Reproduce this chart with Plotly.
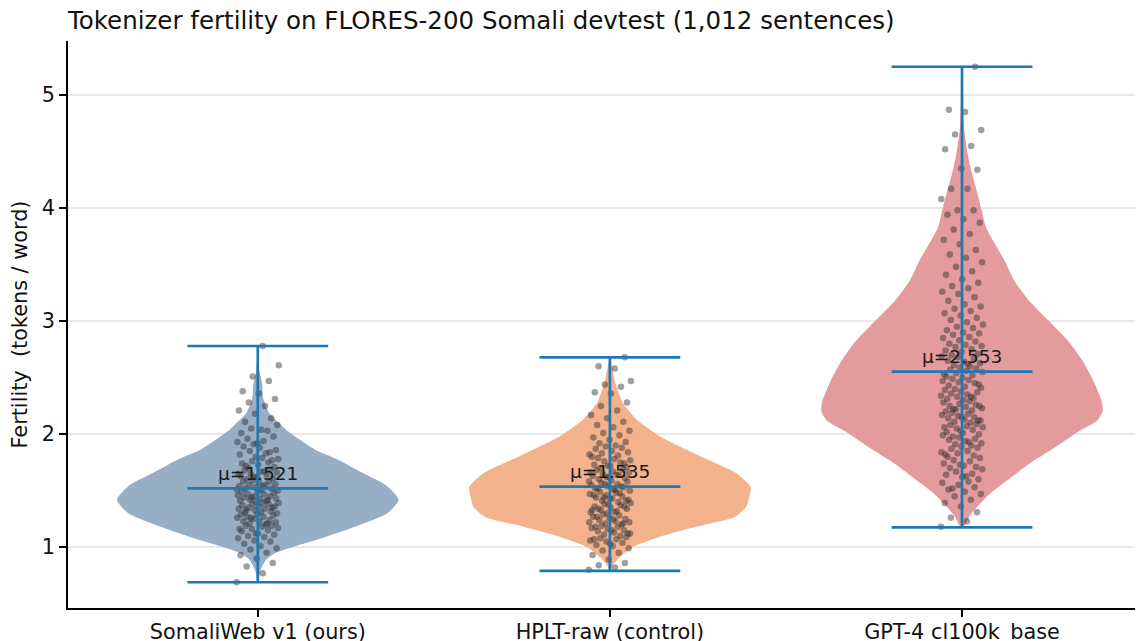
import plotly.graph_objects as go

# ---------------- data ----------------
categories = ["SomaliWeb v1 (ours)", "HPLT-raw (control)", "GPT-4 cl100k_base"]
means = [1.521, 1.535, 2.553]
mins = [0.69, 0.79, 1.175]
maxs = [2.78, 2.68, 5.25]

# violin density outlines (value, relative density 0..1)
somali_kde_y = [0.69, 0.80, 0.89, 0.95, 1.01, 1.07, 1.19, 1.30, 1.42, 1.54, 1.66,
                1.78, 1.86, 1.95, 2.04, 2.10, 2.19, 2.31, 2.45, 2.57, 2.78]
somali_kde_d = [0.0, 0.02, 0.06, 0.13, 0.27, 0.43, 0.71, 0.92, 1.0, 0.92, 0.74,
                0.56, 0.41, 0.30, 0.20, 0.15, 0.08, 0.04, 0.03, 0.01, 0.0]
hplt_kde_y = [0.79, 0.84, 0.91, 1.00, 1.09, 1.18, 1.27, 1.36, 1.45, 1.53, 1.66,
              1.80, 1.97, 2.13, 2.28, 2.45, 2.63, 2.68]
hplt_kde_d = [0.0, 0.02, 0.07, 0.16, 0.35, 0.61, 0.89, 0.97, 0.99, 1.0, 0.89,
              0.65, 0.37, 0.19, 0.09, 0.04, 0.01, 0.0]
gpt_kde_y = [1.175, 1.195, 1.27, 1.36, 1.475, 1.59, 1.74, 1.89, 2.01, 2.12, 2.21,
             2.30, 2.48, 2.66, 2.83, 3.01, 3.19, 3.36, 3.54, 3.69, 3.83, 3.98,
             4.13, 4.31, 4.48, 4.72, 5.02, 5.25]
gpt_kde_d = [0.0, 0.02, 0.05, 0.11, 0.20, 0.32, 0.48, 0.67, 0.81, 0.96, 1.0,
             0.99, 0.93, 0.85, 0.75, 0.61, 0.47, 0.37, 0.30, 0.23, 0.17, 0.14,
             0.11, 0.07, 0.04, 0.014, 0.007, 0.0]

# per-sentence fertility values (a readable subset of the plotted points)
somali_pts = [0.69, 0.77, 0.83, 0.86, 0.90, 0.93, 0.95, 0.98, 0.99,
              1.01, 1.03, 1.05, 1.06, 1.08, 1.09, 1.10,
              1.11, 1.12, 1.14, 1.15, 1.16, 1.17, 1.18, 1.19, 1.19, 1.12, 1.16,
              1.20, 1.21, 1.22, 1.23, 1.23, 1.24, 1.25, 1.26, 1.27, 1.27, 1.28, 1.29, 1.29, 1.21, 1.26,
              1.30, 1.31, 1.31, 1.32, 1.33, 1.34, 1.34, 1.35, 1.36, 1.36, 1.37, 1.38, 1.38, 1.39, 1.39, 1.33, 1.35,
              1.40, 1.41, 1.41, 1.42, 1.43, 1.43, 1.44, 1.45, 1.45, 1.46, 1.47, 1.47, 1.48, 1.49, 1.49, 1.42, 1.44,
              1.50, 1.51, 1.52, 1.52, 1.53, 1.54, 1.55, 1.55, 1.56, 1.57, 1.58, 1.58, 1.59, 1.51, 1.54,
              1.60, 1.61, 1.62, 1.63, 1.64, 1.65, 1.66, 1.67, 1.68, 1.69, 1.62, 1.65, 1.67,
              1.70, 1.71, 1.73, 1.74, 1.75, 1.76, 1.78, 1.79, 1.72, 1.77,
              1.80, 1.82, 1.83, 1.85, 1.86, 1.88, 1.89, 1.84,
              1.91, 1.93, 1.94, 1.96, 1.98, 1.92,
              2.01, 2.03, 2.05, 2.08, 2.04,
              2.11, 2.14, 2.18, 2.21,
              2.25, 2.28, 2.31,
              2.36, 2.38,
              2.47, 2.51, 2.61, 2.78]
hplt_pts = [0.80, 0.82, 0.84, 0.86, 0.89, 0.93, 0.95, 0.97, 0.99,
            1.01, 1.02, 1.04, 1.05, 1.06, 1.07, 1.08, 1.09, 1.03, 1.07,
            1.10, 1.11, 1.12, 1.13, 1.14, 1.15, 1.16, 1.17, 1.18, 1.19, 1.12, 1.15, 1.18,
            1.20, 1.21, 1.22, 1.23, 1.24, 1.25, 1.26, 1.27, 1.28, 1.29, 1.22, 1.25, 1.27, 1.21,
            1.30, 1.31, 1.32, 1.33, 1.34, 1.35, 1.36, 1.37, 1.38, 1.39, 1.31, 1.34, 1.36, 1.38, 1.33,
            1.40, 1.41, 1.42, 1.43, 1.44, 1.45, 1.46, 1.47, 1.48, 1.49, 1.41, 1.43, 1.46, 1.48, 1.44,
            1.50, 1.51, 1.52, 1.53, 1.54, 1.55, 1.56, 1.57, 1.58, 1.59, 1.52, 1.54, 1.56, 1.58, 1.51,
            1.60, 1.61, 1.62, 1.63, 1.64, 1.65, 1.66, 1.67, 1.68, 1.69, 1.62, 1.66, 1.64,
            1.70, 1.71, 1.72, 1.73, 1.75, 1.76, 1.77, 1.78, 1.79, 1.74, 1.72,
            1.80, 1.81, 1.83, 1.84, 1.85, 1.87, 1.88, 1.89, 1.82,
            1.90, 1.92, 1.93, 1.95, 1.97, 1.99,
            2.01, 2.03, 2.06, 2.08,
            2.11, 2.14, 2.17,
            2.21, 2.25, 2.28,
            2.36, 2.37, 2.42, 2.44, 2.47, 2.58, 2.60, 2.68]
gpt_pts = [1.18, 1.23, 1.26, 1.31, 1.36, 1.39,
           1.42, 1.45, 1.47, 1.49,
           1.51, 1.53, 1.55, 1.57, 1.58, 1.52,
           1.60, 1.62, 1.64, 1.65, 1.67, 1.69, 1.63,
           1.70, 1.71, 1.73, 1.74, 1.76, 1.77, 1.79, 1.72,
           1.80, 1.81, 1.83, 1.84, 1.85, 1.87, 1.88, 1.89, 1.82,
           1.90, 1.91, 1.92, 1.94, 1.95, 1.96, 1.97, 1.99, 1.93, 1.98,
           2.00, 2.01, 2.02, 2.04, 2.05, 2.06, 2.07, 2.08, 2.09, 2.03, 2.06,
           2.10, 2.11, 2.12, 2.13, 2.14, 2.15, 2.16, 2.17, 2.18, 2.19, 2.12, 2.15,
           2.20, 2.21, 2.22, 2.23, 2.24, 2.25, 2.26, 2.27, 2.28, 2.29, 2.22, 2.25,
           2.30, 2.31, 2.32, 2.33, 2.34, 2.35, 2.36, 2.37, 2.38, 2.39, 2.33,
           2.40, 2.41, 2.42, 2.43, 2.45, 2.46, 2.47, 2.48, 2.49, 2.44,
           2.50, 2.51, 2.52, 2.54, 2.55, 2.56, 2.57, 2.58, 2.59, 2.53,
           2.60, 2.61, 2.63, 2.64, 2.65, 2.67, 2.68, 2.69, 2.62,
           2.70, 2.71, 2.73, 2.74, 2.75, 2.77, 2.78, 2.79,
           2.80, 2.82, 2.83, 2.85, 2.86, 2.88, 2.89,
           2.90, 2.92, 2.94, 2.95, 2.97, 2.99,
           3.01, 3.03, 3.05, 3.07, 3.09,
           3.11, 3.13, 3.15, 3.18,
           3.21, 3.24, 3.26, 3.29,
           3.31, 3.34, 3.37,
           3.41, 3.44, 3.48,
           3.52, 3.56, 3.59,
           3.63, 3.68,
           3.72, 3.77,
           3.81, 3.87, 3.90, 3.94, 3.98, 3.98,
           4.08, 4.17, 4.17, 4.34, 4.35, 4.52, 4.55, 4.65, 4.69, 4.85, 4.87, 5.25]

y_ticks = [1, 2, 3, 4, 5]

# ---------------- styling ----------------
FONT = "DejaVu Sans"
fills = ["rgb(152,174,197)", "rgb(243,177,140)", "rgb(227,155,157)"]
STAT = "#1f77b4"
HALF_W = 0.4      # max half-width of violins (category units)
CAP_HALF = 0.2    # half-width of the min/max/mean bars
JITTER = 0.06

# page body has an 8px default margin: size the figure to fill the rest
W, H = 1135, 633

kde_y = [somali_kde_y, hplt_kde_y, gpt_kde_y]
kde_d = [somali_kde_d, hplt_kde_d, gpt_kde_d]
pts = [somali_pts, hplt_pts, gpt_pts]

fig = go.Figure()

# violin bodies
for i in range(3):
    ys = kde_y[i]
    ds = kde_d[i]
    xs = [i + HALF_W * d for d in ds] + [i - HALF_W * d for d in reversed(ds)]
    yy = list(ys) + list(reversed(ys))
    fig.add_trace(go.Scatter(
        x=xs, y=yy, mode="lines", fill="toself", fillcolor=fills[i],
        line=dict(width=0, color=fills[i], shape="spline", smoothing=0.6),
        hoverinfo="skip", showlegend=False))

# jittered points (deterministic spread)
for i in range(3):
    vals = pts[i]
    xs = [i + (((k * 0.6180339887) % 1.0) - 0.5) * 2 * JITTER for k in range(len(vals))]
    fig.add_trace(go.Scatter(
        x=xs, y=vals, mode="markers",
        marker=dict(size=6.5, color="rgba(45,45,45,0.46)", line=dict(width=0)),
        hoverinfo="skip", showlegend=False))

# stat lines: vertical extent + caps at min, max, mean
for i in range(3):
    lx, ly = [], []
    lx += [i, i, None]; ly += [mins[i], maxs[i], None]
    for v in (mins[i], maxs[i], means[i]):
        lx += [i - CAP_HALF, i + CAP_HALF, None]
        ly += [v, v, None]
    fig.add_trace(go.Scatter(x=lx, y=ly, mode="lines",
                             line=dict(color=STAT, width=2.7),
                             hoverinfo="skip", showlegend=False))

# mean labels
for i in range(3):
    fig.add_annotation(x=i, y=means[i], text=f"μ={means[i]:.3f}", showarrow=False,
                       xanchor="center", yanchor="middle", yshift=15,
                       font=dict(family=FONT, size=18.5, color="#1a1a1a"))

# dotted reference at fertility = 1
fig.add_shape(type="line", xref="paper", x0=0, x1=1, yref="y", y0=1, y1=1,
              line=dict(color="#888888", width=1.4, dash="dot"), layer="between")

fig.update_layout(
    width=W, height=H,
    margin=dict(l=60, r=0, t=33, b=33, autoexpand=False),
    paper_bgcolor="white", plot_bgcolor="white",
    font=dict(family=FONT, size=20.8, color="#111111"),
    title=dict(text="Tokenizer fertility on FLORES-200 Somali devtest (1,012 sentences)",
               x=60 / W, xanchor="left", xref="container",
               y=1 - 12 / H, yanchor="middle", yref="container",
               font=dict(family=FONT, size=24.5, color="#111111"),
               automargin=False),
    showlegend=False,
)
fig.update_xaxes(
    range=[-0.539, 2.514], tickvals=[0, 1, 2], ticktext=categories,
    showgrid=False, zeroline=False, showline=True, linecolor="black", linewidth=1.7,
    ticks="outside", ticklen=7, tickwidth=1.7, tickcolor="black", automargin=False,
    ticklabelstandoff=-3,
    tickfont=dict(family=FONT, size=20.8, color="#111111"))
fig.update_yaxes(
    range=[0.462, 5.478], tickvals=y_ticks, ticktext=[str(t) for t in y_ticks],
    showgrid=True, gridcolor="#e8e8e8", gridwidth=1.5, zeroline=False,
    showline=True, linecolor="black", linewidth=1.7, automargin=False,
    ticks="outside", ticklen=7, tickwidth=1.7, tickcolor="black",
    tickfont=dict(family=FONT, size=20.8, color="#111111"),
    title=dict(text="Fertility\u00a0 (tokens / word)", standoff=10,
               font=dict(family=FONT, size=20.8, color="#111111")))

fig.write_html("out.html")
